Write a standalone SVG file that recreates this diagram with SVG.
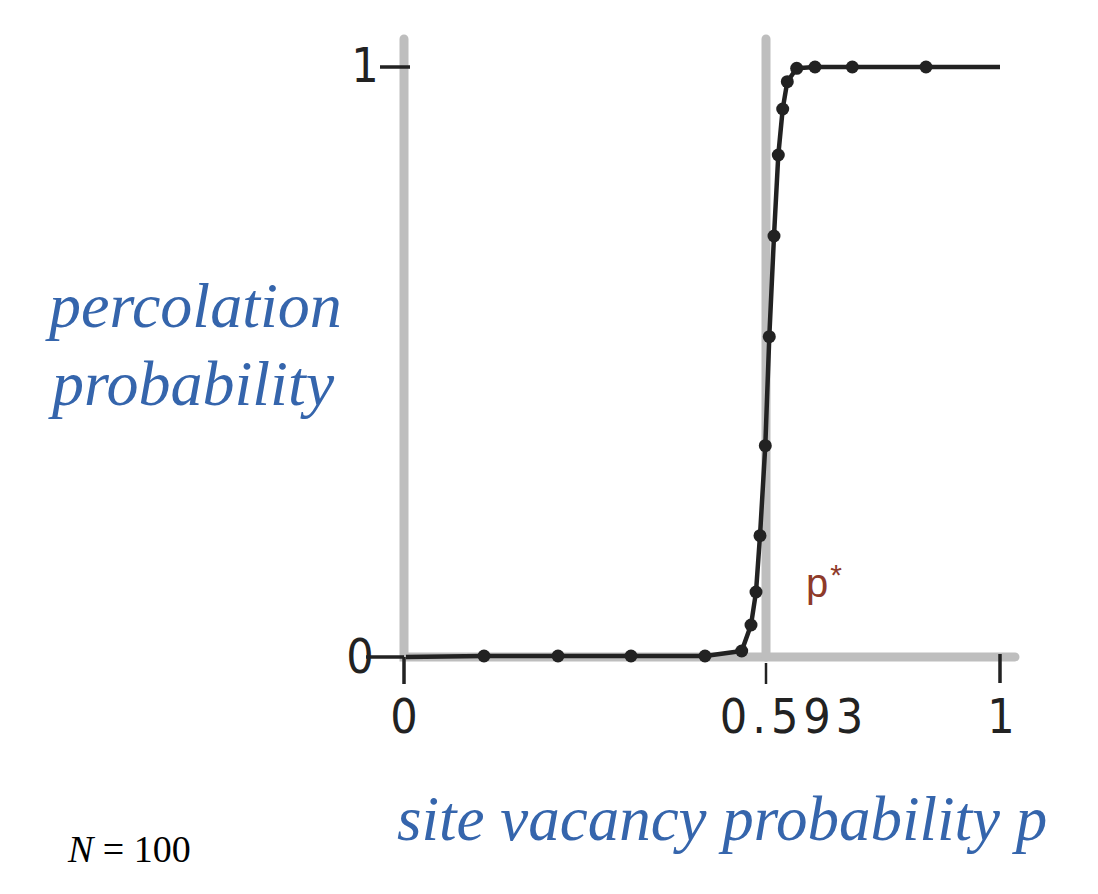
<svg xmlns="http://www.w3.org/2000/svg" width="1098" height="894" viewBox="0 0 1098 894">
<style>
.gray{stroke:#bebebe;stroke-width:9;fill:none;stroke-linecap:round}
.tick{stroke:#222;stroke-width:3.5;fill:none}
.curve{stroke:#222;stroke-width:4.5;fill:none;stroke-linejoin:round}
.dot{fill:#222}
.num{font-family:"DejaVu Sans","Liberation Sans",sans-serif;font-stretch:condensed;font-size:48px;fill:#222}
.lab{font-family:"Liberation Serif",serif;font-style:italic;font-size:64px;fill:#3565ac}
</style>
<rect width="1098" height="894" fill="#fff"/>
<g id="axes">
<path class="gray" d="M404,39 V657 H1015"/>
<path class="gray" d="M766,39 V657"/>
<path class="tick" d="M380,67 H410 M366,657 H404 M404,657 V684 M1000,654 V683"/>
<path class="tick" style="stroke-width:2.5" d="M766,663 V684"/>
</g>
<g id="tick-labels">
<text class="num" x="365" y="82" text-anchor="middle">1</text>
<text class="num" x="360" y="673" text-anchor="middle">0</text>
<text class="num" x="404" y="733" text-anchor="middle">0</text>
<text class="num" x="794" y="733" text-anchor="middle" letter-spacing="5">0.593</text>
<text class="num" x="1001" y="733" text-anchor="middle">1</text>
</g>
<g id="curve">
<polyline class="curve" points="406,657 484,656 558,656 631,656 705,656 741.7,651 751,625 756,592 760,535.7 765.3,445.7 769.3,336.7 774,236 778.3,155 782.7,109 787.3,81.7 796.7,68.3 815,67 852.3,67 926,67 1000,67"/>
<g class="dot">
<circle cx="484" cy="656" r="6.5"/><circle cx="558" cy="656" r="6.5"/><circle cx="631" cy="656" r="6.5"/><circle cx="705" cy="656" r="6.5"/>
<circle cx="741.7" cy="651" r="6.5"/><circle cx="751" cy="625" r="6.5"/><circle cx="756" cy="592" r="6.5"/><circle cx="760" cy="535.7" r="6.5"/>
<circle cx="765.3" cy="445.7" r="6.5"/><circle cx="769.3" cy="336.7" r="6.5"/><circle cx="774" cy="236" r="6.5"/><circle cx="778.3" cy="155" r="6.5"/>
<circle cx="782.7" cy="109" r="6.5"/><circle cx="787.3" cy="81.7" r="6.5"/><circle cx="796.7" cy="68.3" r="6.5"/><circle cx="815" cy="67" r="6.5"/>
<circle cx="852.3" cy="67" r="6.5"/><circle cx="926" cy="67" r="6.5"/>
</g>
</g>
<g id="labels">
<text class="lab" x="49" y="327">percolation</text>
<text class="lab" x="52" y="405">probability</text>
<text class="lab" x="397" y="840" style="font-size:63px">site vacancy probability p</text>
<text x="806" y="597" font-family="Liberation Sans,sans-serif" font-size="40" fill="#8e3a2a">p<tspan font-size="30" dx="2" dy="-12">*</tspan></text>
<text x="68" y="862" font-family="Liberation Serif,serif" font-size="38" fill="#000"><tspan font-style="italic">N</tspan> = 100</text>
</g>
</svg>
